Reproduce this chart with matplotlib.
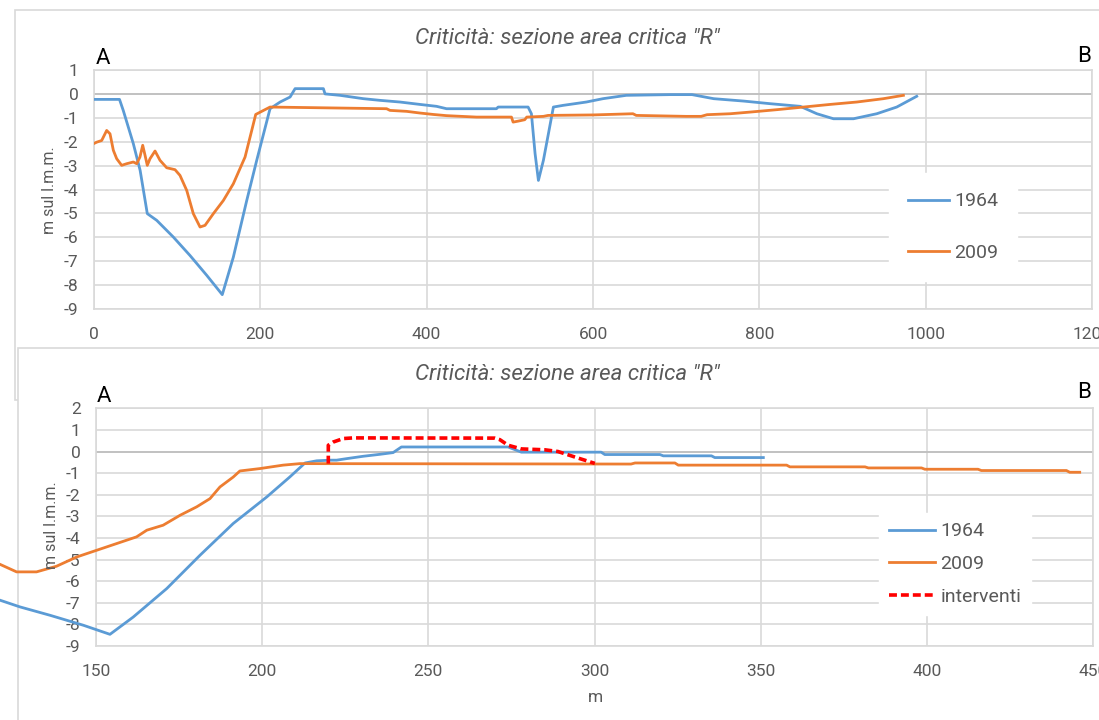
import matplotlib
matplotlib.use("Agg")
import matplotlib.pyplot as plt
from matplotlib import font_manager
from matplotlib.patches import Rectangle

# ---- data: full section (upper chart) ----
x1964_full = [0, 31, 35.5, 47.6, 55.8, 64.4, 75.7, 95.7, 115.7, 135.8, 154.5, 167.8, 183.9,
              195.9, 211.9, 224, 236, 242, 276, 278, 296, 324, 344, 368, 392, 412, 424, 484,
              486, 522, 526, 530.4, 534.4, 540.4, 546.4, 552.4, 564, 580, 592, 612, 640, 693,
              719, 745, 781, 813, 849, 869, 889, 913, 941, 965, 989]
y1964_full = [-0.23, -0.23, -0.69, -2.08, -3.2, -5.01, -5.29, -5.99, -6.76, -7.59, -8.4, -6.83,
              -4.46, -2.78, -0.62, -0.34, -0.13, 0.22, 0.22, 0.0, -0.06, -0.2, -0.27, -0.34,
              -0.44, -0.52, -0.62, -0.62, -0.55, -0.55, -0.83, -2.5, -3.62, -2.78, -1.67, -0.55,
              -0.48, -0.40, -0.34, -0.2, -0.06, -0.03, -0.03, -0.2, -0.3, -0.41, -0.52, -0.83,
              -1.04, -1.04, -0.83, -0.55, -0.1]

x2009_full = [0, 3.6, 9.6, 15.6, 19.6, 23.6, 27.6, 33.6, 39.7, 47.6, 51.7, 55.6, 58.9, 61.7,
              64.4, 67.7, 73.7, 79.7, 87.7, 97.7, 103.7, 111.8, 119.7, 127.8, 133.8, 143.8,
              155.8, 167.8, 181.9, 189.9, 194.7, 211.9, 352, 356, 376, 392, 408, 424, 460,
              502, 504, 510, 518, 520.4, 540.4, 546, 600, 648, 652, 712, 730, 737, 765, 789,
              821, 853, 885, 917, 949, 973]
y2009_full = [-2.08, -2.02, -1.95, -1.53, -1.67, -2.36, -2.71, -2.99, -2.92, -2.85, -2.92,
              -2.64, -2.15, -2.57, -2.99, -2.71, -2.39, -2.78, -3.09, -3.17, -3.41, -4.04,
              -5.01, -5.57, -5.50, -5.01, -4.46, -3.76, -2.64, -1.53, -0.86, -0.55, -0.62,
              -0.69, -0.73, -0.80, -0.86, -0.91, -0.97, -0.97, -1.18, -1.14, -1.08, -0.97,
              -0.94, -0.90, -0.88, -0.83, -0.90, -0.94, -0.94, -0.87, -0.83, -0.76, -0.66,
              -0.55, -0.44, -0.34, -0.2, -0.06]

# ---- data: detail of the critical area (lower chart) ----
x1964_det = [118, 121.1, 127.1, 136.2, 146.2, 154.2, 161.2, 171.3, 181.3, 191.3, 201.4, 208.3,
             212.9, 216.4, 220.4, 222.4, 225.4, 230.4, 235.4, 239.4, 241.9, 274, 278, 302,
             303.1, 319.7, 320.7, 335.2, 336.2, 350.8]
y1964_det = [-6.75, -6.88, -7.19, -7.58, -8.04, -8.46, -7.66, -6.34, -4.80, -3.33, -2.10,
             -1.18, -0.53, -0.43, -0.40, -0.40, -0.33, -0.22, -0.13, -0.05, 0.21, 0.21,
             -0.03, -0.03, -0.14, -0.14, -0.2, -0.2, -0.28, -0.28]

x2009_det = [118, 121.1, 126.1, 132.1, 138.1, 144.2, 150.2, 156.2, 162.2, 165.3, 170.2, 175.3,
             180.3, 184.3, 187.3, 191.3, 193.3, 199.3, 206.3, 211.4, 311, 312.2, 324.2, 325.2,
             357.8, 358.8, 381.4, 382.4, 398.4, 399.4, 415.4, 416.4, 442, 443, 446]
y2009_det = [-5.05, -5.22, -5.57, -5.57, -5.31, -4.88, -4.57, -4.26, -3.95, -3.64, -3.41,
             -2.95, -2.56, -2.18, -1.64, -1.18, -0.90, -0.79, -0.63, -0.56, -0.58, -0.53,
             -0.53, -0.63, -0.63, -0.71, -0.71, -0.76, -0.76, -0.82, -0.82, -0.88, -0.88,
             -0.96, -0.96]

x_interv = [219.9, 219.9, 221.4, 224.4, 227.4, 270, 271.5, 274, 278, 285, 289, 295, 300.1]
y_interv = [-0.56, 0.29, 0.44, 0.60, 0.63, 0.62, 0.55, 0.29, 0.12, 0.08, 0.0, -0.3, -0.55]

title_txt = 'Criticità: sezione area critica "R"'
ylabel_txt = "m sul l.m.m."

BLUE = "#5B9BD5"
ORANGE = "#ED7D31"
RED = "#FF0000"
GREY_TXT = "#595959"
GRID = "#D9D9D9"

available = {f.name for f in font_manager.fontManager.ttflist}
narrow = "Liberation Sans Narrow" if "Liberation Sans Narrow" in available else "Roboto"
plt.rcParams["font.family"] = [narrow, "DejaVu Sans"]
plt.rcParams["axes.unicode_minus"] = False

W, H = 1099, 720
fig = plt.figure(figsize=(W / 100, H / 100), dpi=100)


def px_rect(x0, y0, x1, y1):
    """figure-fraction [left, bottom, width, height] from pixel corners"""
    return [x0 / W, 1 - y1 / H, (x1 - x0) / W, (y1 - y0) / H]


# chart frames (white panels with light border), kept behind the axes
fig.patches.append(Rectangle((15 / W, 1 - 400 / H), 1.2, 390 / H, transform=fig.transFigure,
                             facecolor="white", edgecolor=GRID, lw=1.2, zorder=-3))
fig.patches.append(Rectangle((18 / W, -0.2), 1.2, 0.2 + 1 - 348 / H, transform=fig.transFigure,
                             facecolor="white", edgecolor=GRID, lw=1.2, zorder=-2))


def style_axes(ax, xlim, ylim, xticks, yticks):
    ax.set_xlim(*xlim)
    ax.set_ylim(*ylim)
    ax.set_xticks(xticks)
    ax.set_yticks(yticks)
    ax.grid(True, color=GRID, lw=1.2)
    ax.set_axisbelow(True)
    for s in ax.spines.values():
        s.set_color(GRID)
        s.set_linewidth(1.2)
    ax.axhline(0, color="#BFBFBF", lw=1.3, zorder=1)
    ax.tick_params(length=0, labelsize=12.5, colors=GREY_TXT)
    ax.tick_params(axis="y", pad=11)
    ax.tick_params(axis="x", pad=13)
    ax.patch.set_alpha(0)


# ---- upper chart ----
ax1 = fig.add_axes(px_rect(93.7, 70, 1092.3, 309))
style_axes(ax1, (0, 1200), (-9, 1), range(0, 1201, 200), range(-9, 2))
ax1.plot(x1964_full, y1964_full, color=BLUE, lw=2, label="1964", zorder=3)
ax1.plot(x2009_full, y2009_full, color=ORANGE, lw=2, label="2009", zorder=3)
leg1 = ax1.legend(loc="center", bbox_to_anchor=(953 / W, 1 - 227 / H),
                  bbox_transform=fig.transFigure, frameon=True, fancybox=False,
                  edgecolor="white", facecolor="white", framealpha=1, fontsize=14,
                  handlelength=2.1, handletextpad=0.25, labelspacing=1.7, borderpad=1.0,
                  borderaxespad=0)
for t in leg1.get_texts():
    t.set_color(GREY_TXT)
fig.text(567 / W, 1 - 38 / H, title_txt, ha="center", va="center", fontsize=16,
         style="italic", color=GREY_TXT)
fig.text(50 / W, 1 - 190 / H, ylabel_txt, rotation=90, ha="center", va="center",
         fontsize=11.5, color=GREY_TXT)
fig.text(103 / W, 1 - 58 / H, "A", ha="center", va="center", fontsize=16, color="black")
fig.text(1084 / W, 1 - 57 / H, "B", ha="center", va="center", fontsize=16, color="black")

# ---- lower chart (detail) ----
ax2 = fig.add_axes(px_rect(96, 408.3, 1093, 646))
style_axes(ax2, (150, 450), (-9, 2), range(150, 451, 50), range(-9, 3))
ax2.plot(x1964_det, y1964_det, color=BLUE, lw=2, label="1964", zorder=3, clip_on=False)
ax2.plot(x2009_det, y2009_det, color=ORANGE, lw=2, label="2009", zorder=3, clip_on=False)
ax2.plot(x_interv, y_interv, color=RED, lw=2.6, ls=(0, (2.2, 1.1)), label="interventi",
         zorder=4)
leg2 = ax2.legend(loc="center", bbox_to_anchor=(955 / W, 1 - 564 / H),
                  bbox_transform=fig.transFigure, frameon=True, fancybox=False,
                  edgecolor="white", facecolor="white", framealpha=1, fontsize=14,
                  handlelength=2.4, handletextpad=0.25, labelspacing=0.75, borderpad=0.5,
                  borderaxespad=0)
for t in leg2.get_texts():
    t.set_color(GREY_TXT)
fig.text(567 / W, 1 - 375 / H, title_txt, ha="center", va="center", fontsize=16,
         style="italic", color=GREY_TXT)
fig.text(52 / W, 1 - 525 / H, ylabel_txt, rotation=90, ha="center", va="center",
         fontsize=11.5, color=GREY_TXT)
fig.text(595 / W, 1 - 697 / H, "m", ha="center", va="center", fontsize=12.5, color=GREY_TXT)
fig.text(104 / W, 1 - 396 / H, "A", ha="center", va="center", fontsize=16, color="black")
fig.text(1084 / W, 1 - 393 / H, "B", ha="center", va="center", fontsize=16, color="black")

fig.savefig("out.png", dpi=100, facecolor="white")
